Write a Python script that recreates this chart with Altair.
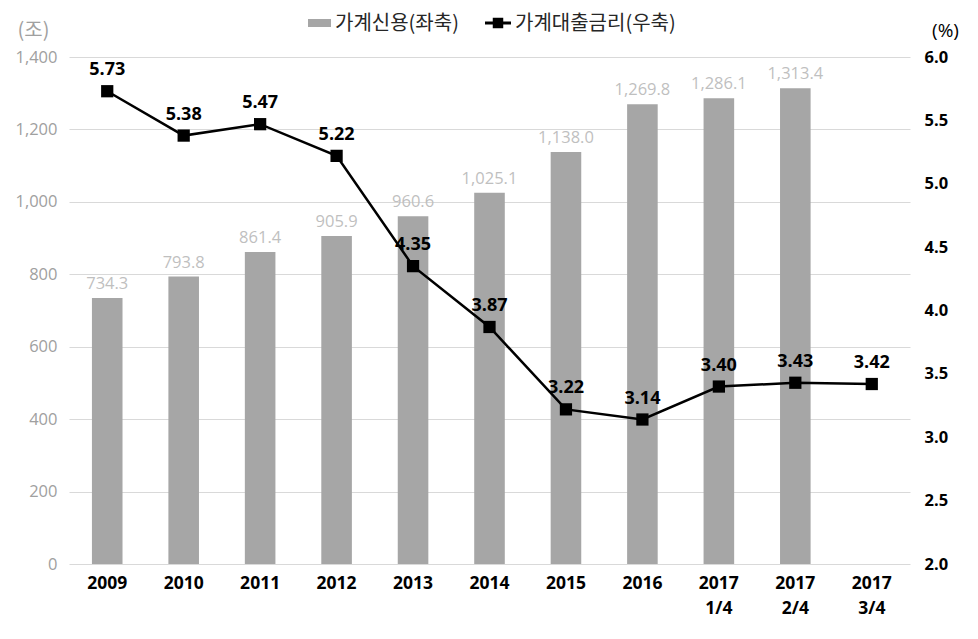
import altair as alt
import pandas as pd

categories = ["2009", "2010", "2011", "2012", "2013", "2014", "2015", "2016",
              "2017 1/4", "2017 2/4", "2017 3/4"]
credit = [734.3, 793.8, 861.4, 905.9, 960.6, 1025.1, 1138.0, 1269.8, 1286.1, 1313.4, None]
rate = [5.73, 5.38, 5.47, 5.22, 4.35, 3.87, 3.22, 3.14, 3.40, 3.43, 3.42]

df = pd.DataFrame({"cat": categories, "credit": credit, "rate": rate})

KFONT = "Noto Sans CJK KR"
NFONT = "Open Sans"
W, H = 841, 507

xenc = alt.X("cat:N", sort=categories, title=None,
             scale=alt.Scale(paddingInner=0.6, paddingOuter=0.3),
             axis=alt.Axis(labelExpr="split(datum.label, ' ')", labelAngle=0,
                           labelFontSize=17.5, labelFontWeight="bold", labelColor="#000000",
                           labelFont=NFONT, labelPadding=10, ticks=False, domain=False,
                           labelLineHeight=25))

base = alt.Chart(df)

bars = base.mark_bar(color="#A6A6A6").encode(
    x=xenc,
    y=alt.Y("credit:Q", scale=alt.Scale(domain=[0, 1400]),
            axis=alt.Axis(values=list(range(0, 1401, 200)), format=",d", title="(조)",
                          titleAngle=0, titleX=-36, titleY=-27, titleAlign="center",
                          titleBaseline="middle",
                          titleFontSize=20, titleFontWeight="normal", titleColor="#A0A0A0",
                          titleFont=KFONT, labelFont=NFONT,
                          labelFontSize=16.5, labelColor="#A0A0A0", ticks=False, domain=False,
                          labelPadding=12, grid=True, gridColor="#D9D9D9")),
)
bar_labels = base.mark_text(dy=-14, fontSize=16.5, color="#BFBFBF", font=NFONT).encode(
    x=alt.X("cat:N", sort=categories),
    y=alt.Y("credit:Q", scale=alt.Scale(domain=[0, 1400])),
    text=alt.Text("credit:Q", format=",.1f"),
)

left = alt.layer(bars, bar_labels)

line = base.mark_line(color="#000000", strokeWidth=2.5).encode(
    x=alt.X("cat:N", sort=categories),
    y=alt.Y("rate:Q", scale=alt.Scale(domain=[2.0, 6.0]),
            axis=alt.Axis(orient="right", values=[2.0, 2.5, 3.0, 3.5, 4.0, 4.5, 5.0, 5.5, 6.0],
                          format=".1f", title="(%)", titleAngle=0, titleX=35, titleY=-27,
                          titleAlign="center", titleBaseline="middle",
                          titleFontSize=19, titleFontWeight="normal",
                          titleColor="#000000", titleFont=NFONT, labelFont=NFONT,
                          labelFontSize=16.5, labelFontWeight="bold", labelColor="#000000",
                          ticks=False, domain=False, grid=False, labelPadding=14)),
)
points = base.mark_point(shape="square", filled=True, size=150, color="#000000", opacity=1).encode(
    x=alt.X("cat:N", sort=categories),
    y=alt.Y("rate:Q", scale=alt.Scale(domain=[2.0, 6.0])),
)
rate_labels = base.mark_text(dy=-21, fontSize=18, fontWeight="bold", color="#000000", font=NFONT).encode(
    x=alt.X("cat:N", sort=categories),
    y=alt.Y("rate:Q", scale=alt.Scale(domain=[2.0, 6.0])),
    text=alt.Text("rate:Q", format=".2f"),
)
right = alt.layer(line, points, rate_labels)

# legend (decoration)
leg_df = pd.DataFrame({"k": [0]})
leg = alt.Chart(leg_df)
leg_bar = leg.mark_rect(color="#A6A6A6").encode(
    x=alt.value(239), x2=alt.value(262), y=alt.value(-38), y2=alt.value(-30))
leg_t1 = leg.mark_text(align="left", baseline="middle", fontSize=20, font=KFONT, color="#262626").encode(
    x=alt.value(266), y=alt.value(-33), text=alt.value("가계신용(좌축)"))
leg_line = leg.mark_rule(color="#000000", strokeWidth=3).encode(
    x=alt.value(416), x2=alt.value(442), y=alt.value(-34))
leg_sq = leg.mark_point(shape="square", filled=True, size=110, color="#000000", opacity=1).encode(
    x=alt.value(429), y=alt.value(-34))
leg_t2 = leg.mark_text(align="left", baseline="middle", fontSize=20, font=KFONT, color="#262626").encode(
    x=alt.value(446), y=alt.value(-33), text=alt.value("가계대출금리(우축)"))
legend = alt.layer(leg_bar, leg_t1, leg_line, leg_sq, leg_t2)

chart = alt.layer(left, right, legend).resolve_scale(y="independent").properties(
    width=W, height=H,
    background="white",
    autosize=alt.AutoSizeParams(type="none"),
    padding={"left": 61, "top": 49, "right": 60, "bottom": 70},
).configure_view(strokeWidth=0, stroke="transparent").configure_axis(domain=False, ticks=False)

chart.save("out.html", embed_options={"renderer": "svg", "actions": False})
